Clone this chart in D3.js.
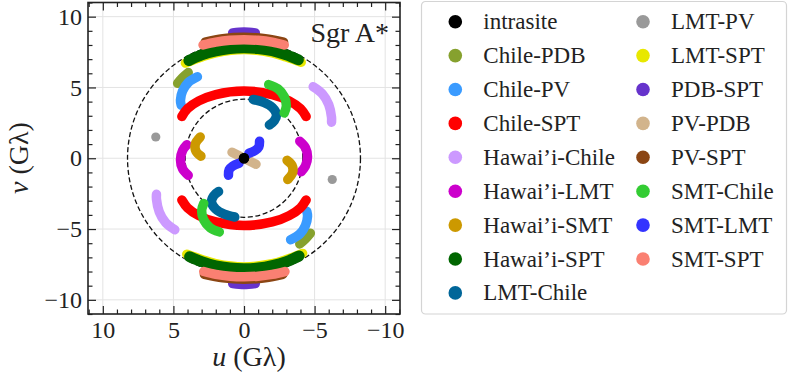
<!DOCTYPE html>
<html><head><meta charset="utf-8">
<script src="https://cdn.jsdelivr.net/npm/d3@7"></script>
<style>
body{margin:0;background:#fff}
svg{display:block}
text{font-family:"Liberation Serif","DejaVu Serif","Noto Serif",serif;fill:#222}
</style>
</head><body>
<svg id="chart" width="789" height="378"></svg>
<script>
// ---------- data (u, v in Gλ); each track also drawn at its conjugate (-u,-v) ----------
const baselineNames = ["intrasite","Chile-PDB","Chile-PV","Chile-SPT","Hawai’i-Chile","Hawai’i-LMT",
  "Hawai’i-SMT","Hawai’i-SPT","LMT-Chile","LMT-PV","LMT-SPT","PDB-SPT","PV-PDB","PV-SPT",
  "SMT-Chile","SMT-LMT","SMT-SPT"];
const baselineColors = ["#000000","#86a12e","#3a9bff","#ff0000","#cc99ff","#cc00cc",
  "#cc9900","#006600","#006699","#999999","#e8e800","#6633cc","#d2b48c","#8b4513",
  "#33cc33","#3333ff","#fa8072"];

const intrasite   = [[0, 0]];
const chilePDB    = [[3.95, 6.05], [4.35, 5.7], [4.7, 5.3]];
const chilePV     = [[3.3, 5.75], [3.95, 5.35], [4.35, 4.75], [4.5, 4.1], [4.45, 3.75]];
const chileSPT    = [[4.4, 2.95], [4.0, 3.5], [3.2, 4.05], [2.0, 4.5], [0, 4.75], [-2.0, 4.5], [-3.2, 4.05], [-4.0, 3.5], [-4.4, 2.95]];
const hawaiiChile = [[-4.9, 5.05], [-5.55, 4.55], [-6.0, 3.8], [-6.2, 2.9], [-6.2, 2.55]];
const hawaiiLMT   = [[-3.95, 1.2], [-4.35, 0.75], [-4.5, 0.1], [-4.35, -0.55], [-4.05, -0.95]];
const hawaiiSMT   = [[3.1, 1.5], [3.45, 1.0], [3.4, 0.5], [3.05, 0.15]];
const hawaiiSPT   = [[3.9, 6.9], [3.0, 7.3], [2.0, 7.58], [1.0, 7.75], [0, 7.8], [-1.0, 7.75], [-2.0, 7.6], [-3.0, 7.3], [-3.85, 6.95]];
const lmtChile    = [[-0.65, 4.15], [-1.4, 3.95], [-2.0, 3.6], [-2.3, 3.1], [-2.15, 2.65], [-1.8, 2.35]];
const lmtPV       = [[6.25, 1.5]];
const lmtSPT      = [[4.15, 6.72], [3.0, 7.15], [2.0, 7.45], [0, 7.68], [-2.0, 7.45], [-3.0, 7.15], [-4.05, 6.78]];
const pdbSPT      = [[0.8, 8.85], [0, 8.92], [-0.8, 8.85]];
const pvPDB       = [[0.85, 0.42], [0.25, 0.12]];
const pvSPT       = [[2.75, 8.2], [1.5, 8.45], [0, 8.55], [-1.5, 8.45], [-2.8, 8.2]];
const smtChile    = [[-1.75, 5.2], [-2.4, 4.9], [-2.85, 4.35], [-3.0, 3.7], [-2.85, 3.2]];
const smtLMT      = [[-1.1, 1.2], [-1.05, 0.8], [-0.8, 0.55], [-0.35, 0.35]];
const smtSPT      = [[2.9, 8.0], [2.0, 8.2], [1.0, 8.33], [0, 8.37], [-1.0, 8.33], [-2.0, 8.2], [-2.85, 8.0]];

const tracks = [intrasite, chilePDB, chilePV, chileSPT, hawaiiChile, hawaiiLMT, hawaiiSMT,
  hawaiiSPT, lmtChile, lmtPV, lmtSPT, pdbSPT, pvPDB, pvSPT, smtChile, smtLMT, smtSPT];
// draw order (LMT-SPT under Hawai'i-SPT, intrasite on top)
const drawOrder = [1,2,3,4,5,6,10,7,8,9,11,12,13,14,15,16,0];

const circleRadii = [4.17, 8.25];
const majorTicks = [10, 5, 0, -5, -10];
const minorTicks = d3.range(-11, 12).filter(d => d % 5 !== 0);
const title = "Sgr A*";

// ---------- layout ----------
const FONT = '"Liberation Serif","DejaVu Serif","Noto Serif",serif';
const svg = d3.select("#chart");
const L = 88, R = 400, T = 2.5, B = 314;
const x = d3.scaleLinear().domain([11.05, -11.05]).range([L, R]);
const y = d3.scaleLinear().domain([-11, 11]).range([B, T]);

// grid
const grid = svg.append("g");
majorTicks.forEach(t => {
  grid.append("line").attr("x1", x(t)).attr("x2", x(t)).attr("y1", T).attr("y2", B)
    .attr("stroke", "#e3e3e3").attr("stroke-width", 1);
  grid.append("line").attr("y1", y(t)).attr("y2", y(t)).attr("x1", L).attr("x2", R)
    .attr("stroke", "#e3e3e3").attr("stroke-width", 1);
});

// dashed circles
circleRadii.forEach(r => {
  svg.append("ellipse").attr("cx", x(0)).attr("cy", y(0))
    .attr("rx", Math.abs(x(r) - x(0))).attr("ry", Math.abs(y(r) - y(0)))
    .attr("fill", "none").attr("stroke", "#111").attr("stroke-width", 1.3)
    .attr("stroke-dasharray", "5,2.6");
});

// tracks
const line = d3.line().x(d => x(d[0])).y(d => y(d[1])).curve(d3.curveCatmullRom.alpha(0.5));
const dataG = svg.append("g");
drawOrder.forEach(i => {
  const pts = tracks[i];
  const conj = pts.map(p => [-p[0], -p[1]]);
  const col = baselineColors[i];
  const w = (i === 7) ? 11 : 9.5;
  [pts, conj].forEach(tr => {
    if (tr.length === 1) {
      dataG.append("circle").attr("cx", x(tr[0][0])).attr("cy", y(tr[0][1]))
        .attr("r", i === 0 ? 5.2 : 4.6).attr("fill", col);
    } else {
      dataG.append("path").attr("d", line(tr)).attr("fill", "none")
        .attr("stroke", col).attr("stroke-width", w)
        .attr("stroke-linecap", "round").attr("stroke-linejoin", "round");
    }
  });
});

// axes
const fmt = d3.format("d");
function styleAxis(g) {
  g.attr("font-family", FONT);
  g.select(".domain").remove();
  g.selectAll(".tick line").attr("stroke", "#222").attr("stroke-width", 1.2);
  g.selectAll("text").attr("font-family", FONT).style("font-family", FONT).style("font-size", "24px").attr("fill", "#222");
}
svg.append("g").attr("transform", `translate(0,${B})`)
  .call(d3.axisBottom(x).tickValues(majorTicks).tickSize(-8).tickPadding(7).tickFormat(fmt)).call(styleAxis);
svg.append("g").attr("transform", `translate(0,${B})`)
  .call(d3.axisBottom(x).tickValues(minorTicks).tickSize(-4.5).tickFormat("")).call(styleAxis);
svg.append("g").attr("transform", `translate(0,${T})`)
  .call(d3.axisTop(x).tickValues(majorTicks).tickSize(-8).tickFormat("")).call(styleAxis);
svg.append("g").attr("transform", `translate(0,${T})`)
  .call(d3.axisTop(x).tickValues(minorTicks).tickSize(-4.5).tickFormat("")).call(styleAxis);
svg.append("g").attr("transform", `translate(${L},0)`)
  .call(d3.axisLeft(y).tickValues(majorTicks).tickSize(-8).tickPadding(6).tickFormat(fmt)).call(styleAxis);
svg.append("g").attr("transform", `translate(${L},0)`)
  .call(d3.axisLeft(y).tickValues(minorTicks).tickSize(-4.5).tickFormat("")).call(styleAxis);
svg.append("g").attr("transform", `translate(${R},0)`)
  .call(d3.axisRight(y).tickValues(majorTicks).tickSize(-8).tickFormat("")).call(styleAxis);
svg.append("g").attr("transform", `translate(${R},0)`)
  .call(d3.axisRight(y).tickValues(minorTicks).tickSize(-4.5).tickFormat("")).call(styleAxis);

// frame
svg.append("rect").attr("x", L).attr("y", T).attr("width", R - L).attr("height", B - T)
  .attr("fill", "none").attr("stroke", "#222").attr("stroke-width", 1.6);

// title
svg.append("text").attr("x", 389).attr("y", 42).attr("text-anchor", "end")
  .style("font-family", FONT).style("font-size", "28px").text(title);

// axis labels
const xl = svg.append("text").attr("x", 249).attr("y", 366).attr("text-anchor", "middle")
  .style("font-family", FONT).style("font-size", "28px");
xl.append("tspan").style("font-style", "italic").text("u");
xl.append("tspan").text(" (Gλ)");
const yl = svg.append("text").attr("transform", "translate(28,158) rotate(-90)").attr("text-anchor", "middle")
  .style("font-family", FONT).style("font-size", "28px");
yl.append("tspan").style("font-style", "italic").text("v");
yl.append("tspan").text(" (Gλ)");

// legend
const lg = svg.append("g");
lg.append("rect").attr("x", 421.5).attr("y", 1.5).attr("width", 365).attr("height", 312.5)
  .attr("rx", 4).attr("fill", "#fff").attr("stroke", "#d4d4d4").attr("stroke-width", 1.2);
baselineNames.forEach((name, i) => {
  const col = i < 9 ? 0 : 1;
  const row = i < 9 ? i : i - 9;
  const cx = col === 0 ? 455.3 : 643;
  const cy = 21.7 + row * 33.9;
  lg.append("circle").attr("cx", cx).attr("cy", cy).attr("r", 6.8).attr("fill", baselineColors[i]);
  lg.append("text").attr("x", cx + 28).attr("y", cy + 7.5)
    .style("font-family", FONT).style("font-size", "23px").text(name);
});
</script>
</body></html>
